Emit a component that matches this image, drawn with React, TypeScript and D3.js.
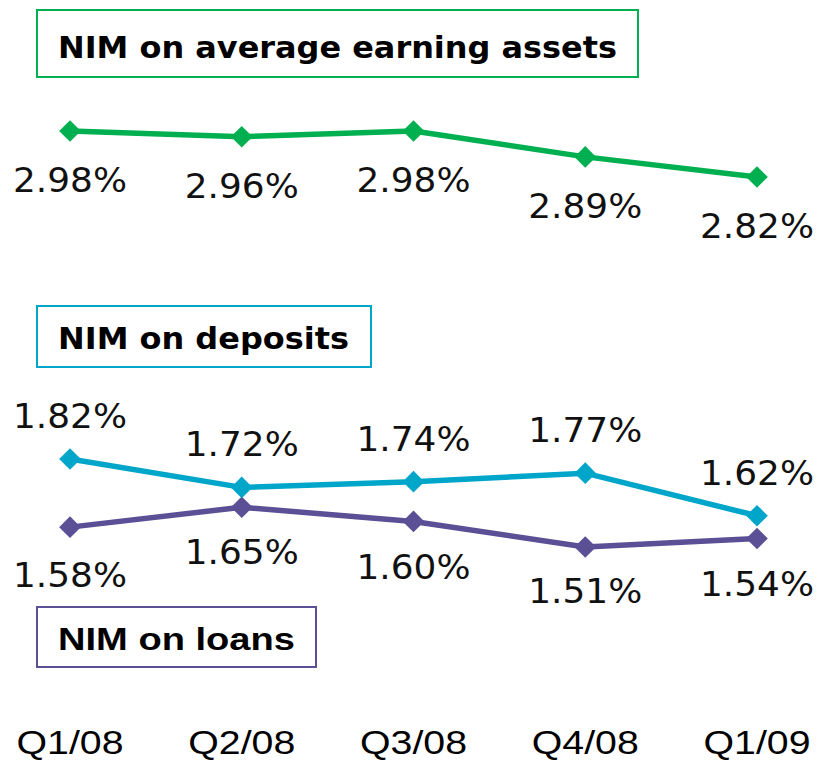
import * as d3 from 'd3';

// quarters and series values
const quarters = ['Q1/08', 'Q2/08', 'Q3/08', 'Q4/08', 'Q1/09'];
const assetsNim = [2.98, 2.96, 2.98, 2.89, 2.82];
const depositsNim = [1.82, 1.72, 1.74, 1.77, 1.62];
const loansNim = [1.58, 1.65, 1.60, 1.51, 1.54];

const W = 819;
const H = 760;

const GREEN = '#00b050';
const CYAN = '#00a6c9';
const PURPLE = '#5b4f96';

const FONT = '"DejaVu Sans", Verdana, sans-serif';
const NARROW = '"Liberation Sans Narrow", "Liberation Sans", Arial, sans-serif';

// broken axis: two panels share the same px per percent
const x = d3.scalePoint<string>().domain(quarters).range([70, 757]);
const yTop = d3.scaleLinear().domain([2.82, 2.98]).range([177, 131]);
const yBottom = d3.scaleLinear().domain([1.51, 1.82]).range([547, 459]);

const diamond = d3.symbol().type(d3.symbolDiamond2).size(300);

type SeriesProps = {
  values: number[];
  y: d3.ScaleLinear<number, number>;
  color: string;
  labelOffset: number;
  labelOffsets?: number[];
};

function Series({ values, y, color, labelOffset, labelOffsets }: SeriesProps) {
  const line = d3
    .line<number>()
    .x((_, i) => x(quarters[i]) as number)
    .y((d) => y(d));
  return (
    <g>
      <path d={line(values) ?? ''} fill="none" stroke={color} strokeWidth={5.5} strokeLinejoin="round" />
      {values.map((v, i) => (
        <path
          key={'m' + i}
          d={diamond() ?? ''}
          transform={`translate(${x(quarters[i])},${y(v)})`}
          fill={color}
        />
      ))}
      {values.map((v, i) => (
        <text
          key={'t' + i}
          x={x(quarters[i])}
          y={y(v) + (labelOffsets ? labelOffsets[i] : labelOffset)}
          textAnchor="middle"
          fontFamily={FONT}
          fontSize={33}
          fill="#111"
          textLength={114}
          lengthAdjust="spacingAndGlyphs"
        >
          {v.toFixed(2)}%
        </text>
      ))}
    </g>
  );
}

function TitleBox({ x0, y0, w, h, color, text, textW, baseline, family = FONT }: {
  x0: number; y0: number; w: number; h: number; color: string; text: string; textW: number; baseline: number; family?: string;
}) {
  return (
    <g>
      <rect x={x0} y={y0} width={w} height={h} fill="#fff" stroke={color} strokeWidth={2} />
      <text
        x={x0 + 21}
        y={baseline}
        fontFamily={family}
        fontWeight="bold"
        fontSize={31}
        fill="#000"
        textLength={textW}
        lengthAdjust="spacingAndGlyphs"
      >
        {text}
      </text>
    </g>
  );
}

export default function App() {
  return (
    <svg
      width={W}
      height={H}
      style={{ position: 'absolute', left: 0, top: 0, background: '#fff' }}
    >
      <TitleBox x0={37} y0={10} w={601} h={67} color={GREEN} text="NIM on average earning assets" textW={559} baseline={58} />
      <TitleBox x0={37} y0={306} w={334} h={61} color={CYAN} text="NIM on deposits" textW={291} baseline={349} />
      <TitleBox x0={37} y0={607} w={279} h={60} color={PURPLE} text="NIM on loans" textW={237} baseline={650} family={NARROW} />

      <Series values={assetsNim} y={yTop} color={GREEN} labelOffset={61} />
      <Series values={loansNim} y={yBottom} color={PURPLE} labelOffset={58} labelOffsets={[60, 57, 58, 56, 58]} />
      <Series values={depositsNim} y={yBottom} color={CYAN} labelOffset={-31} />

      {quarters.map((q) => (
        <text
          key={q}
          x={x(q)}
          y={754}
          textAnchor="middle"
          fontFamily={NARROW}
          fontSize={34}
          fill="#000"
          textLength={107}
          lengthAdjust="spacingAndGlyphs"
        >
          {q}
        </text>
      ))}
    </svg>
  );
}
